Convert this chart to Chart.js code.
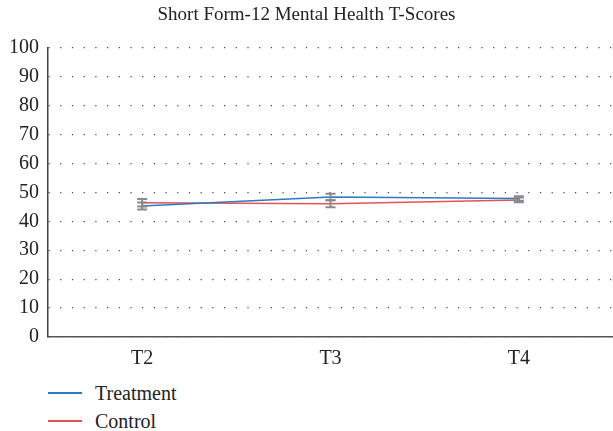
<!DOCTYPE html>
<html>
<head>
<meta charset="utf-8">
<script src="https://cdn.jsdelivr.net/npm/chart.js@4"></script>
<style>
  body { margin: 0; background: #fff; }
  .wrap { position: relative; width: 613px; height: 373px; }
  .legend { font-family: "Liberation Serif", serif; font-size: 20px; color: #222; margin-left: 48px; margin-top: 6px; }
  .legend div { display: flex; align-items: center; height: 28px; }
  .legend span.ln { display: inline-block; width: 34px; height: 2px; margin-right: 13px; }
</style>
</head>
<body>
<div class="wrap"><canvas id="chart"></canvas></div>
<div class="legend" id="legend"></div>
<script>
const labels = ["T2", "T3", "T4"];
const treatment = [45.3, 48.4, 47.9];
const control = [46.4, 46.1, 47.4];
const treatmentErr = [1.2, 1.1, 0.8];
const controlErr = [1.3, 1.2, 0.8];
const yTicks = [0, 10, 20, 30, 40, 50, 60, 70, 80, 90, 100];

const blue = "#2b7bc4";
const red = "#e4525a";

const errorBars = {
  id: "errorBars",
  afterDatasetsDraw(chart) {
    const ctx = chart.ctx;
    const y = chart.scales.y;
    const errs = [treatmentErr, controlErr];
    ctx.save();
    ctx.strokeStyle = "#8a8a8a";
    ctx.lineWidth = 2;
    chart.data.datasets.forEach((ds, i) => {
      const meta = chart.getDatasetMeta(i);
      meta.data.forEach((pt, j) => {
        const top = y.getPixelForValue(ds.data[j] + errs[i][j]);
        const bot = y.getPixelForValue(ds.data[j] - errs[i][j]);
        ctx.beginPath();
        ctx.moveTo(pt.x, top); ctx.lineTo(pt.x, bot);
        ctx.moveTo(pt.x - 5, top); ctx.lineTo(pt.x + 5, top);
        ctx.moveTo(pt.x - 5, bot); ctx.lineTo(pt.x + 5, bot);
        ctx.stroke();
      });
    });
    ctx.restore();
  }
};

new Chart(document.getElementById("chart"), {
  type: "line",
  data: {
    labels: labels,
    datasets: [
      { label: "Treatment", data: treatment, borderColor: blue, borderWidth: 1.5, pointRadius: 0, tension: 0 },
      { label: "Control", data: control, borderColor: red, borderWidth: 1.5, pointRadius: 0, tension: 0 },
    ],
  },
  options: {
    responsive: true,
    maintainAspectRatio: false,
    animation: false,
    layout: { padding: { left: 0, right: 0, top: 0, bottom: 0 } },
    plugins: {
      legend: { display: false },
      tooltip: { enabled: false },
      title: {
        display: true,
        text: "Short Form-12 Mental Health T-Scores",
        color: "#222",
        font: { family: "Liberation Serif", size: 19, weight: "normal" },
        padding: { top: 4, bottom: 21 },
      },
    },
    scales: {
      x: {
        offset: true,
        grid: { display: false },
        border: { display: true, color: "#555", width: 1.5 },
        ticks: { color: "#222", font: { family: "Liberation Serif", size: 20 }, padding: 2 },
      },
      y: {
        min: 0,
        max: 100,
        afterBuildTicks: (axis) => { axis.ticks = yTicks.map((v) => ({ value: v })); },
        grid: { color: "#444", lineWidth: 1.2, drawTicks: false },
        border: { display: true, color: "#444", width: 1.5, dash: [1.2, 10.5] },
        ticks: { color: "#222", font: { family: "Liberation Serif", size: 20 }, padding: 9 },
      },
    },
  },
  plugins: [errorBars],
});

const legend = document.getElementById("legend");
[["Treatment", blue], ["Control", red]].forEach(([name, col]) => {
  const row = document.createElement("div");
  row.innerHTML = `<span class="ln" style="background:${col}"></span>${name}`;
  legend.appendChild(row);
});
</script>
</body>
</html>
